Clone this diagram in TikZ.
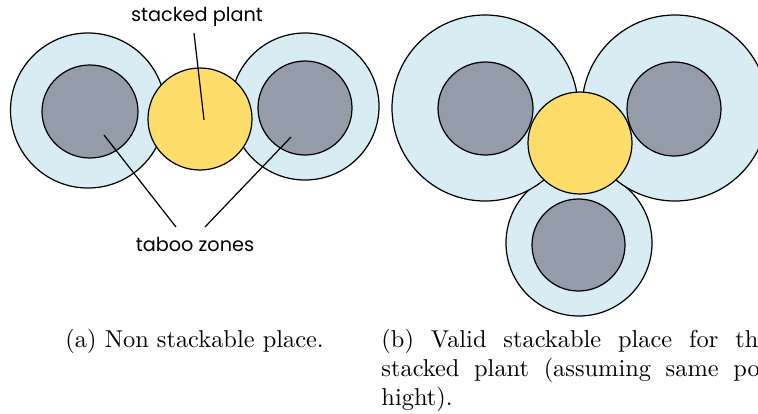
\documentclass[tikz,border=0pt]{standalone}
\usepackage{fontspec}
\newfontfamily\labelfont{Poppins}
\usetikzlibrary{shapes.geometric}
\definecolor{zone}{RGB}{215,237,243}
\definecolor{potgrey}{RGB}{148,156,170}
\definecolor{plantyellow}{RGB}{255,221,107}
\begin{document}
\begin{tikzpicture}[x=0.41pt,y=-0.41pt,
  disc/.style 2 args={ellipse, draw=black, line width=0.5pt, inner sep=0pt,
    minimum width=#1*0.82pt, minimum height=#2*0.82pt},
  zonedisc/.style 2 args={disc={#1}{#2}, fill=zone},
  potdisc/.style 2 args={disc={#1}{#2}, fill=potgrey},
  plantdisc/.style 2 args={disc={#1}{#2}, fill=plantyellow},
  tag/.style={font=\labelfont\fontsize{7.9pt}{9.5pt}\selectfont, inner sep=1pt},
  leader/.style={draw=black, line width=0.5pt},
  caption/.style={inner sep=0pt, anchor=base west}]
\useasboundingbox (0,0) rectangle (758,413);

% (a) plant squeezed between two neighbours
\node[zonedisc={77.5}{77.5}] (aLZ) at (88,110.5) {};
\node[zonedisc={74}{73.5}]   (aRZ) at (305,106.5) {};
\node[potdisc={48}{46.5}]    (aLP) at (90,111.5) {};
\node[potdisc={47}{47}]      (aRP) at (305,108) {};
\node[plantdisc={52}{51}]    (aS)  at (200,119) {};

\node[tag] (stackTag) at (197,17) {stacked plant};
\node[tag] (tabooTag) at (195,244) {taboo zones};

\coordinate (stackEnd) at (204,120);
\coordinate (tabooL) at (104,135);
\coordinate (tabooR) at (291,137);
\coordinate (tabooLa) at (176,227);
\coordinate (tabooRa) at (205,227);
\coordinate (stackTop) at (194,33);
\draw[leader] (stackTop) -- (stackEnd);
\draw[leader] (tabooL) -- (tabooLa);
\draw[leader] (tabooR) -- (tabooRa);

% (b) plant resting on three neighbours
\node[zonedisc={73}{73}]     (bBZ) at (579,243) {};
\node[zonedisc={93}{93}]     (bLZ) at (485,108) {};
\node[zonedisc={93}{93}]     (bRZ) at (675,108) {};
\node[potdisc={47.5}{46.5}]  (bLP) at (485.5,108.5) {};
\node[potdisc={47}{47}]      (bRP) at (674,109) {};
\node[potdisc={46.5}{46}]    (bBP) at (578.5,245) {};
\node[plantdisc={52}{51}]    (bS)  at (580,143) {};

% captions
\node[caption] (capA) at (65,347) {(a) Non stackable place.};
\node[caption] (capB) at (381,347) {\parbox[t]{159pt}{(b) Valid stackable place for the\linebreak
  stacked plant (assuming same pot\linebreak hight).}};
\end{tikzpicture}
\end{document}
